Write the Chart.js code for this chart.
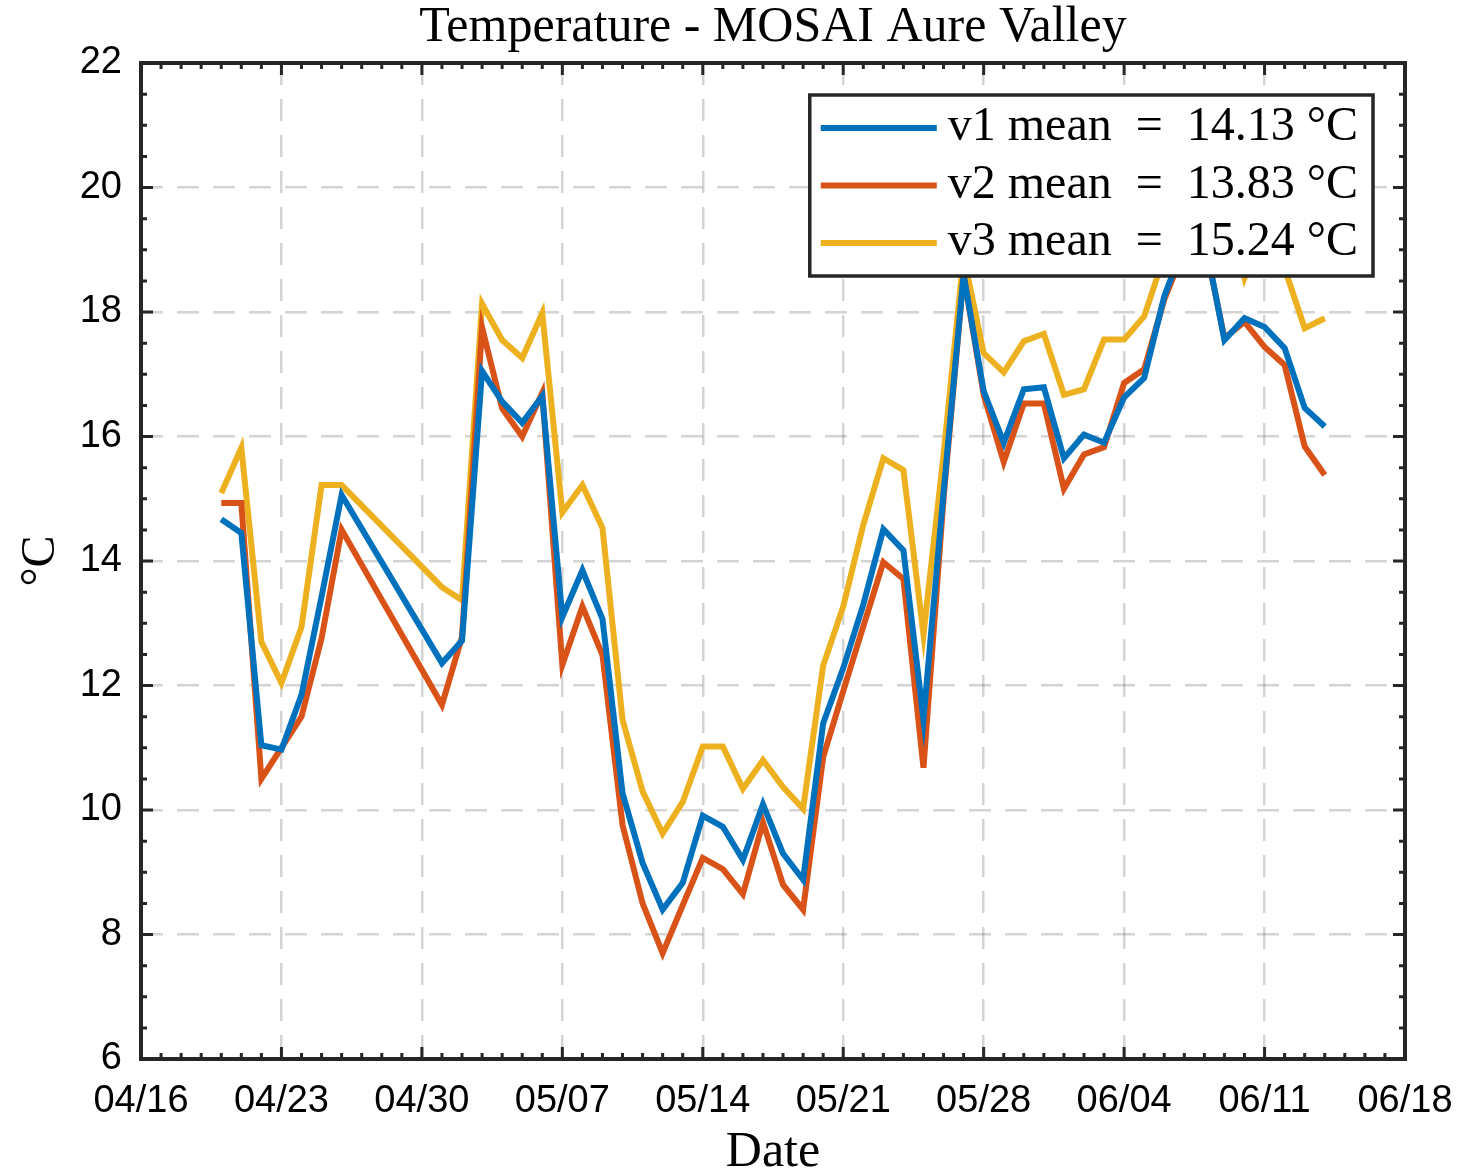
<!DOCTYPE html>
<html><head><meta charset="utf-8">
<script src="https://cdn.jsdelivr.net/npm/chart.js@4.4.0/dist/chart.umd.min.js"></script>
<style>html,body{margin:0;padding:0;background:#fff;}canvas{display:block;}</style>
</head><body>
<canvas id="c" width="1463" height="1171"></canvas>
<script>
// ---------------- data ----------------
const chartTitle = 'Temperature - MOSAI Aure Valley';
const xAxisTitle = 'Date';
const yAxisTitle = '°C';
const xStart = '04/16';
const xEnd = '06/18';
const xTickStepDays = 7;
const yMin = 6, yMax = 22, yStep = 2, yMinorStep = 0.5;

const dates = [
  '04/20','04/21','04/22','04/23','04/24','04/25','04/26',
  '05/01','05/02','05/03','05/04','05/05','05/06','05/07','05/08','05/09','05/10',
  '05/11','05/12','05/13','05/14','05/15','05/16','05/17','05/18','05/19','05/20',
  '05/21','05/22','05/23','05/24','05/25','05/26','05/27','05/28','05/29','05/30','05/31',
  '06/01','06/02','06/03','06/04','06/05','06/06','06/07','06/08','06/09','06/10',
  '06/11','06/12','06/13','06/14'
];
const seriesNames = ['v1', 'v2', 'v3'];
const seriesMeans = [14.13, 13.83, 15.24];
const v1 = [
  14.67,14.45,11.04,10.97,11.85,13.43,15.06,
  12.36,12.72,17.05,16.56,16.22,16.65,13.10,13.85,13.07,10.27,
  9.15,8.40,8.83,9.91,9.73,9.20,10.09,9.30,8.88,11.39,
  12.28,13.30,14.51,14.17,11.46,15.10,18.60,16.73,15.90,16.76,16.79,
  15.65,16.03,15.90,16.63,16.94,18.25,19.10,19.20,17.55,17.90,
  17.76,17.42,16.46,16.16
];
const v2 = [
  14.93,14.93,10.50,11.00,11.50,12.76,14.50,
  11.69,12.78,17.75,16.45,16.00,16.70,12.33,13.27,12.49,9.76,
  8.50,7.70,8.47,9.23,9.05,8.65,9.80,8.80,8.40,10.85,
  11.91,12.95,13.98,13.71,10.68,15.00,18.60,16.67,15.59,16.53,16.53,
  15.16,15.71,15.83,16.86,17.08,18.20,19.00,19.15,17.58,17.84,
  17.44,17.15,15.84,15.38
];
const v3 = [
  15.09,15.82,12.70,12.04,12.94,15.22,15.22,
  13.58,13.37,18.13,17.55,17.26,17.98,14.78,15.22,14.53,11.45,
  10.30,9.62,10.13,11.02,11.02,10.34,10.80,10.37,10.02,12.32,
  13.27,14.58,15.65,15.46,12.82,15.70,18.90,17.34,17.03,17.53,17.65,
  16.67,16.76,17.56,17.56,17.93,18.90,20.00,20.20,19.90,18.55,
  19.40,18.70,17.74,17.90
];
const seriesColors = ['#0072BD', '#D95319', '#EDB120'];

// ---------------- helpers ----------------
const YEAR = 2021;
function dayOf(s) {
  const [m, d] = s.split('/').map(Number);
  const [m0, d0] = xStart.split('/').map(Number);
  return Math.round((Date.UTC(YEAR, m - 1, d) - Date.UTC(YEAR, m0 - 1, d0)) / 86400000);
}
function labelOf(day) {
  const [m0, d0] = xStart.split('/').map(Number);
  const dt = new Date(Date.UTC(YEAR, m0 - 1, d0) + day * 86400000);
  return String(dt.getUTCMonth() + 1).padStart(2, '0') + '/' + String(dt.getUTCDate()).padStart(2, '0');
}
const xs = dates.map(dayOf);
const allSeries = [v1, v2, v3];
const datasets = allSeries.map((vals, i) => ({
  label: seriesNames[i] + ' mean\u2002=\u2002' + seriesMeans[i].toFixed(2) + ' °C',
  data: vals.map((v, j) => ({x: xs[j], y: v})),
  borderColor: seriesColors[i],
  backgroundColor: seriesColors[i],
  borderWidth: 6,
  pointRadius: 0,
  tension: 0,
  fill: false
}));

const SERIF = '"Liberation Serif", "Times New Roman", serif';
const SANS = '"Liberation Sans", Arial, Helvetica, sans-serif';
const AX = '#262626';

const frameAndTicks = {
  id: 'frameAndTicks',
  afterDraw(chart) {
    const {ctx, chartArea: {left, right, top, bottom}, scales: {x, y}} = chart;
    ctx.save();
    ctx.strokeStyle = AX;
    ctx.lineWidth = 3;
    ctx.beginPath();
    for (let d = x.min; d <= x.max; d++) {
      const px = x.getPixelForValue(d);
      const L = (d % xTickStepDays === 0) ? 12 : 6;
      ctx.moveTo(px, bottom); ctx.lineTo(px, bottom - L);
      ctx.moveTo(px, top); ctx.lineTo(px, top + L);
    }
    for (let v = yMin; v <= yMax + 1e-9; v += yMinorStep) {
      const py = y.getPixelForValue(v);
      const L = (Math.abs(v / yStep - Math.round(v / yStep)) < 1e-6) ? 12 : 6;
      ctx.moveTo(left, py); ctx.lineTo(left + L, py);
      ctx.moveTo(right, py); ctx.lineTo(right - L, py);
    }
    ctx.stroke();
    ctx.lineWidth = 4;
    ctx.strokeRect(left, top, right - left, bottom - top);

    // legend box (drawn over the lines, as in the reference)
    const fs = 48;
    ctx.font = fs + 'px ' + SERIF;
    const items = chart.data.datasets;
    const tw = Math.max(...items.map(ds => ctx.measureText(ds.label).width));
    const padL = 11, lineLen = 116, gap = 11, padR = 15, rowH = 57.5, padT = 33;
    const w = padL + lineLen + gap + tw + padR;
    const h = padT * 2 + rowH * (items.length - 1);
    const bx = right - 32 - w, by = top + 32;
    ctx.fillStyle = '#fff';
    ctx.fillRect(bx, by, w, h);
    ctx.lineWidth = 3.5;
    ctx.strokeStyle = AX;
    ctx.strokeRect(bx, by, w, h);
    items.forEach((ds, i) => {
      const cy = by + padT + i * rowH;
      ctx.strokeStyle = ds.borderColor;
      ctx.lineWidth = 6;
      ctx.beginPath();
      ctx.moveTo(bx + padL, cy); ctx.lineTo(bx + padL + lineLen, cy);
      ctx.stroke();
      ctx.fillStyle = '#000';
      ctx.textBaseline = 'alphabetic';
      ctx.textAlign = 'left';
      ctx.fillText(ds.label, bx + padL + lineLen + gap, cy + 12);
    });
    ctx.restore();
  }
};

new Chart(document.getElementById('c'), {
  type: 'line',
  data: {datasets},
  options: {
    responsive: false,
    animation: false,
    devicePixelRatio: 1,
    layout: {padding: {left: 0, right: 58, top: 0, bottom: 0}},
    plugins: {
      legend: {display: false},
      tooltip: {enabled: false},
      title: {
        display: true,
        fullSize: false,
        text: chartTitle,
        color: '#000',
        font: {family: SERIF, size: 50, weight: 'normal', lineHeight: 1},
        padding: {top: 3, bottom: 10}
      }
    },
    scales: {
      x: {
        type: 'linear',
        min: dayOf(xStart),
        max: dayOf(xEnd),
        afterFit(scale) { scale.height = 112; scale.paddingLeft = 0; scale.paddingRight = 0; },
        afterBuildTicks(scale) {
          const t = [];
          for (let d = dayOf(xStart); d <= dayOf(xEnd); d += xTickStepDays) t.push({value: d});
          scale.ticks = t;
        },
        ticks: {
          autoSkip: false, maxRotation: 0, minRotation: 0,
          callback: (v) => labelOf(v),
          color: '#000',
          font: {family: SANS, size: 38, lineHeight: 1.2},
          padding: 20
        },
        grid: {
          color: 'rgba(38,38,38,0.2)', lineWidth: 2.5, drawTicks: false
        },
        border: {display: false, dash: [22, 14]},
        title: {
          display: true, text: xAxisTitle, color: '#000',
          font: {family: SERIF, size: 50, weight: 'normal', lineHeight: 0.72},
          padding: {top: 0, bottom: 0}
        }
      },
      y: {
        type: 'linear',
        min: yMin, max: yMax,
        afterFit(scale) { scale.width = 141; },
        ticks: {
          stepSize: yStep,
          color: '#000',
          font: {family: SANS, size: 38, lineHeight: 1.2},
          padding: 19
        },
        grid: {
          color: 'rgba(38,38,38,0.2)', lineWidth: 2.5, drawTicks: false
        },
        border: {display: false, dash: [22, 14]},
        title: {
          display: true, text: yAxisTitle, color: '#000',
          font: {family: SERIF, size: 48, weight: 'normal', lineHeight: 1},
          padding: {top: 17, bottom: 0}
        }
      }
    }
  },
  plugins: [frameAndTicks]
});
</script>
</body></html>
